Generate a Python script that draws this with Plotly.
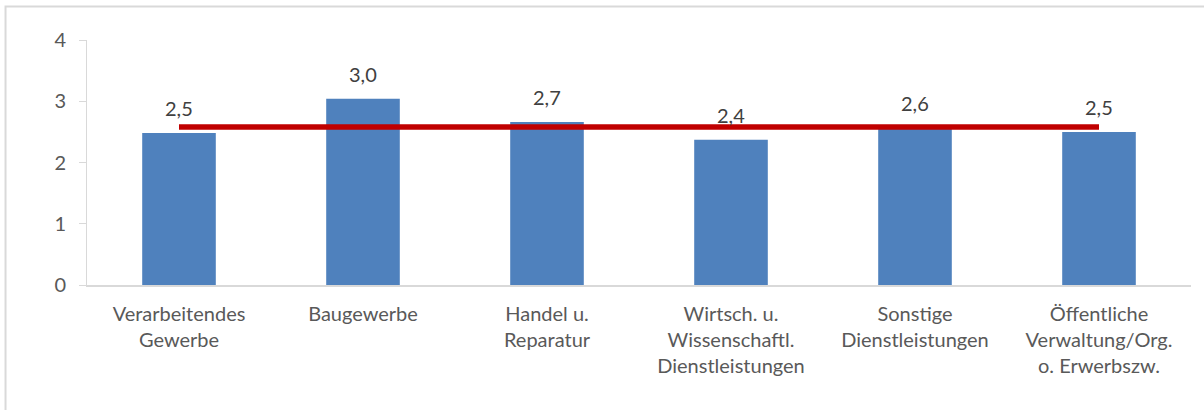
import plotly.graph_objects as go

categories = [
    "Verarbeitendes<br>Gewerbe",
    "Baugewerbe",
    "Handel u.<br>Reparatur",
    "Wirtsch. u.<br>Wissenschaftl.<br>Dienstleistungen",
    "Sonstige<br>Dienstleistungen",
    "Öffentliche<br>Verwaltung/Org.<br>o. Erwerbszw.",
]
values = [2.48, 3.04, 2.66, 2.37, 2.56, 2.50]
average = [2.58] * len(categories)
y_ticks = [0, 1, 2, 3, 4]

FONT = "Lato"
TXT = "#404040"
AX = "#595959"

fig = go.Figure()
fig.add_trace(go.Bar(
    x=categories, y=values, marker_color="#4F81BD",
    marker_line_width=0, width=0.4, showlegend=False, hoverinfo="skip",
))
fig.add_trace(go.Scatter(
    x=categories, y=average, mode="lines",
    line=dict(color="#C00000", width=5.5), showlegend=False, hoverinfo="skip",
))
for c, v in zip(categories, values):
    fig.add_annotation(
        x=c, y=v, text=f"{v:.1f}".replace(".", ","), showarrow=False,
        yanchor="middle", yshift=25, font=dict(family=FONT, size=20, color=TXT),
    )

# chart frame
fig.add_shape(type="rect", xref="paper", yref="paper",
              x0=-0.0738, x1=1.05, y0=-0.6, y1=1.1367,
              line=dict(color="#D9D9D9", width=2), fillcolor="rgba(0,0,0,0)", layer="below")

fig.update_layout(
    width=1204, height=410,
    margin=dict(l=87, r=13, t=40, b=125, autoexpand=False),
    paper_bgcolor="white", plot_bgcolor="white",
    font=dict(family=FONT, size=20, color=AX),
    separators=",.",
)
fig.update_xaxes(
    showline=True, linecolor="#D9D9D9", linewidth=2, ticks="",
    showgrid=False, tickfont=dict(family=FONT, size=20, color=AX),
    ticklabelstandoff=10, automargin=False,
)
fig.update_yaxes(
    range=[0, 4], tickvals=y_ticks, showline=True, linecolor="#D9D9D9", linewidth=1,
    ticks="outside", ticklen=7, tickcolor="#D9D9D9", showgrid=False, zeroline=False,
    tickfont=dict(family=FONT, size=20, color=AX), ticklabelstandoff=9, automargin=False,
)
fig.write_html("out.html", config={"displayModeBar": False},
               post_script="document.body.style.margin='0';")
